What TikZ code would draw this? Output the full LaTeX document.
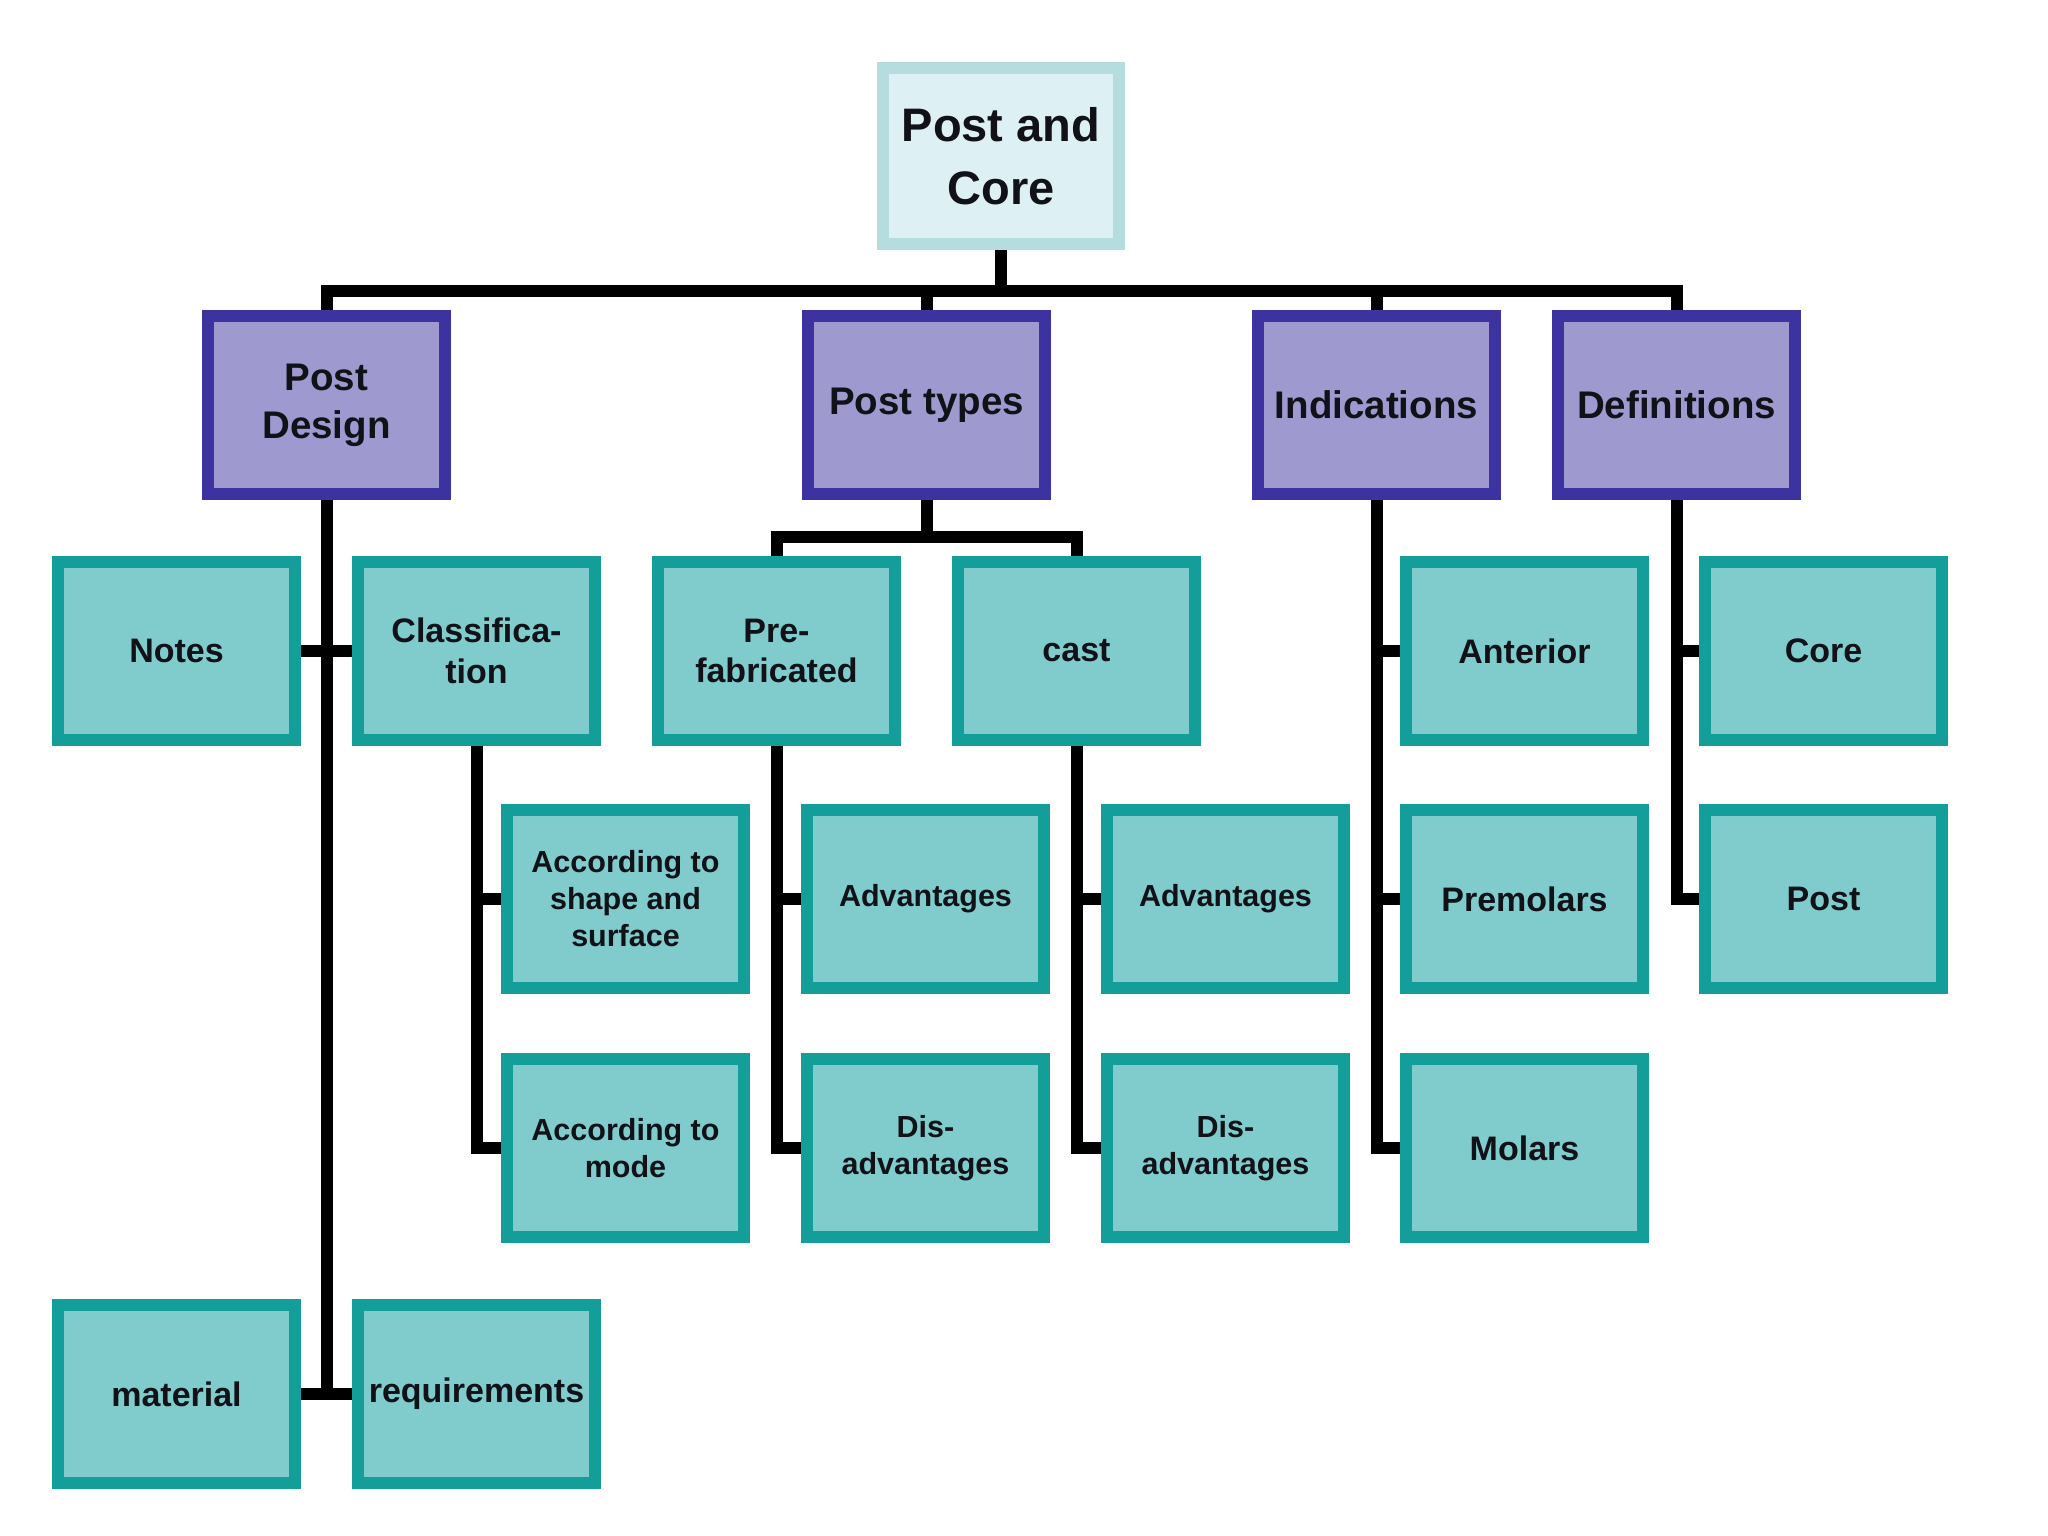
\documentclass[tikz,border=0pt]{standalone}
\usepackage{fontspec}
\setmainfont{Liberation Sans}
\usetikzlibrary{backgrounds}
\definecolor{tealfill}{HTML}{80CCCC}
\definecolor{tealline}{HTML}{139E99}
\definecolor{purpfill}{HTML}{9E9ACF}
\definecolor{purpline}{HTML}{3D33A0}
\definecolor{rootfill}{HTML}{DDF0F3}
\definecolor{rootline}{HTML}{B5DDE0}
\definecolor{txt}{HTML}{111118}
\tikzset{
  box/.style={draw, rectangle, line width=12pt, minimum width=237pt, minimum height=178pt,
    inner sep=0pt, align=center, text=txt},
  rootbox/.style={box, fill=rootfill, draw=rootline, minimum width=236pt, minimum height=176pt,
    font=\bfseries\fontsize{47}{63}\selectfont},
  topbox/.style={box, fill=purpfill, draw=purpline, font=\bfseries\fontsize{38.5}{48}\selectfont},
  leafbox/.style={box, fill=tealfill, draw=tealline, font=\bfseries\fontsize{34}{40.5}\selectfont},
  smallbox/.style={box, fill=tealfill, draw=tealline, font=\bfseries\fontsize{30.5}{37}\selectfont},
  wire/.style={line width=12pt, black, line join=miter, line cap=rect}
}
\begin{document}
\begin{tikzpicture}[x=1pt,y=-1pt]
\useasboundingbox (0,0) rectangle (2048,1536);
% root
\node[rootbox] (root) at (1001,156) {Post and\\ Core};
% level 1
\node[topbox] (pd)  at (326.5,405) {Post\\ Design};
\node[topbox] (pt)  at (926.5,405) {Post types};
\node[topbox] (ind) at (1376.5,405) {Indications};
\node[topbox] (def) at (1676.5,405) {Definitions};
% row 2
\node[leafbox] (notes)   at (176.5,651)  {Notes};
\node[leafbox] (classif) at (476.5,651)  {Classifica-\\ tion};
\node[leafbox] (prefab)  at (776.5,651)  {Pre-\\ fabricated};
\node[leafbox] (cast)    at (1076.5,651) {cast};
\node[leafbox] (ant)     at (1524.5,651) {Anterior};
\node[leafbox] (core)    at (1823.5,651) {Core};
% row 3
\node[smallbox] (acc1) at (625.5,899)  {According to\\ shape and\\ surface};
\node[smallbox] (adv1) at (925.5,899)  {Advantages};
\node[smallbox] (adv2) at (1225.5,899) {Advantages};
\node[leafbox]  (pre)  at (1524.5,899) {Premolars};
\node[leafbox]  (post) at (1823.5,899) {Post};
% row 4
\node[smallbox] (acc2) at (625.5,1148)  {According to\\ mode};
\node[smallbox] (dis1) at (925.5,1148)  {Dis-\\ advantages};
\node[smallbox] (dis2) at (1225.5,1148) {Dis-\\ advantages};
\node[leafbox]  (mol)  at (1524.5,1148) {Molars};
% row 5
\node[leafbox] (mat) at (176.5,1394) {material};
\node[leafbox] (req) at (476.5,1394) {requirements};
% connectors
\coordinate (bus) at (0,291);
\coordinate (bus2) at (0,537);
\begin{scope}[on background layer]
\fill[white] (0,0) rectangle (2048,1536);
\draw[wire] (root) -- (root |- bus);
\draw[wire] (pd) -- (pd |- bus) -- (def |- bus) -- (def);
\draw[wire] (pt) -- (pt |- bus);
\draw[wire] (ind) -- (ind |- bus);
% post design
\draw[wire] (pd) -- (pd |- mat);
\draw[wire] (notes) -- (classif);
\draw[wire] (mat) -- (req);
% classification
\draw[wire] (classif) |- (acc2);
\draw[wire] (classif |- acc1) -- (acc1);
% post types
\draw[wire] (pt) -- (pt |- bus2);
\draw[wire] (prefab) -- (prefab |- bus2) -- (cast |- bus2) -- (cast);
\draw[wire] (prefab) |- (dis1);
\draw[wire] (prefab |- adv1) -- (adv1);
\draw[wire] (cast) |- (dis2);
\draw[wire] (cast |- adv2) -- (adv2);
% indications
\draw[wire] (ind) |- (mol);
\draw[wire] (ind |- ant) -- (ant);
\draw[wire] (ind |- pre) -- (pre);
% definitions
\draw[wire] (def) |- (post);
\draw[wire] (def |- core) -- (core);
\end{scope}
\end{tikzpicture}
\end{document}
